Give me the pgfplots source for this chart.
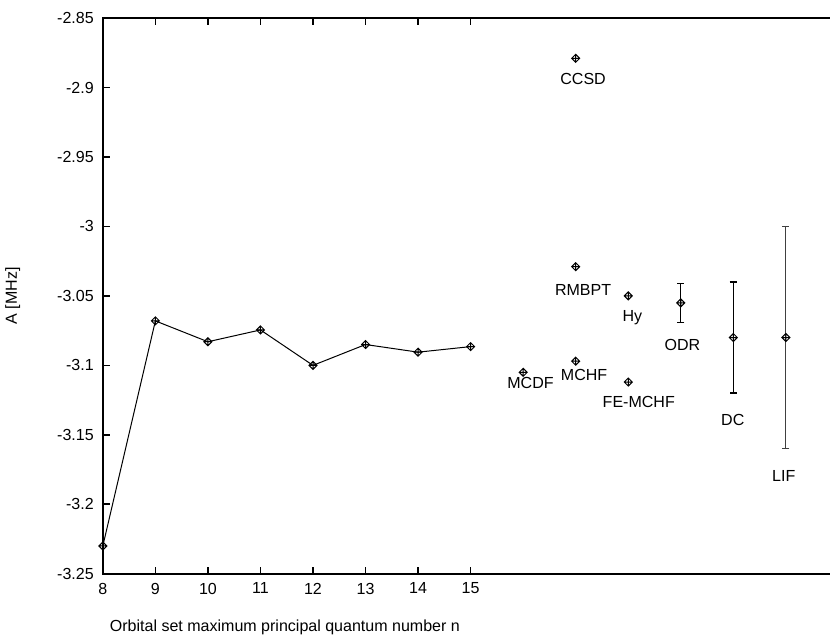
\documentclass[border=0pt]{standalone}
\usepackage{fontspec}
\setmainfont{Liberation Sans}
\usepackage{pgfplots}
\pgfplotsset{compat=1.18}

% diamond with a cross inside
\pgfdeclareplotmark{dplus}{%
  \pgfpathmoveto{\pgfqpoint{0pt}{\pgfplotmarksize}}%
  \pgfpathlineto{\pgfqpoint{\pgfplotmarksize}{0pt}}%
  \pgfpathlineto{\pgfqpoint{0pt}{-\pgfplotmarksize}}%
  \pgfpathlineto{\pgfqpoint{-\pgfplotmarksize}{0pt}}%
  \pgfpathclose
  \pgfpathmoveto{\pgfqpoint{0pt}{\pgfplotmarksize}}%
  \pgfpathlineto{\pgfqpoint{0pt}{-\pgfplotmarksize}}%
  \pgfpathmoveto{\pgfqpoint{-\pgfplotmarksize}{0pt}}%
  \pgfpathlineto{\pgfqpoint{\pgfplotmarksize}{0pt}}%
  \pgfusepathqstroke
}

\begin{document}
\begin{tikzpicture}[font=\fontsize{8}{9.6}\selectfont]
\begin{axis}[
    scale only axis,
    width=367.3pt,
    height=277.5pt,
    xmin=8, xmax=22,
    ymin=-3.25, ymax=-2.85,
    xtick={8,...,15},
    ytick={-3.25,-3.2,-3.15,-3.1,-3.05,-3,-2.95,-2.9,-2.85},
    yticklabels={-3.25,-3.2,-3.15,-3.1,-3.05,-3,-2.95,-2.9,-2.85},
    tick align=inside,
    xtick pos=both,
    ytick pos=both,
    xticklabel pos=lower,
    yticklabel pos=left,
    major tick length=3.5pt,
    axis line style={line width=1pt},
    every tick/.style={black, line width=0.8pt},
    /pgf/number format/assume math mode=true,
    xticklabel style={yshift=-1pt},
    yticklabel style={xshift=-1pt},
    clip=false,
]
\coordinate (sw) at (rel axis cs:0,0);
\coordinate (ne) at (rel axis cs:0,1);

% convergence with orbital set
\addplot[black, line width=0.5pt, mark=dplus, mark size=2pt,
         mark options={line width=0.5pt}] coordinates {
    (8,-3.230) (9,-3.068) (10,-3.083) (11,-3.0745) (12,-3.100)
    (13,-3.085) (14,-3.0905) (15,-3.0865)
};

% other results
\addplot[only marks, mark=dplus, mark size=2pt,
         mark options={line width=0.5pt}] coordinates {
    (16,-3.105) (17,-3.097) (17,-3.029) (17,-2.879) (18,-3.050) (18,-3.112)
};

% experimental values with error bars
\addplot[only marks, mark=dplus, mark size=2pt, line width=0.7pt,
         mark options={line width=0.5pt},
         error bars/.cd, y dir=both, y explicit,
         error mark options={rotate=90, mark size=1.8pt, line width=0.7pt}]
    coordinates {
    (19,-3.055) +- (0,0.014)
    (20,-3.080) +- (0,0.040)
};
\addplot[only marks, mark=dplus, mark size=2pt, line width=0.7pt, black!75,
         mark options={black, line width=0.5pt},
         error bars/.cd, y dir=both, y explicit,
         error bar style={black!75},
         error mark options={rotate=90, mark size=1.8pt, line width=0.7pt, black!75}]
    coordinates {
    (21,-3.080) +- (0,0.080)
};

\node at (axis cs:17.14,-2.894) {CCSD};
\node at (axis cs:17.14,-3.0457) {RMBPT};
\node at (axis cs:18.08,-3.066) {Hy};
\node at (axis cs:19.03,-3.085) {ODR};
\node at (axis cs:16.14,-3.1126) {MCDF};
\node at (axis cs:17.16,-3.107) {MCHF};
\node at (axis cs:18.20,-3.126) {FE-MCHF};
\node at (axis cs:19.99,-3.139) {DC};
\node at (axis cs:20.96,-3.1795) {LIF};

\node[anchor=west] at ([yshift=-27pt]sw) {Orbital set maximum principal quantum number n};
\node[rotate=90] at ([xshift=-45pt]rel axis cs:0,0.5) {A [MHz]};
\coordinate (cropright) at (axis cs:21.84,-3.25);
\end{axis}
\pgfresetboundingbox
\path[use as bounding box] ([xshift=-51.35pt,yshift=-32pt]sw) rectangle ([yshift=9pt]ne -| cropright);
\end{tikzpicture}
\end{document}
